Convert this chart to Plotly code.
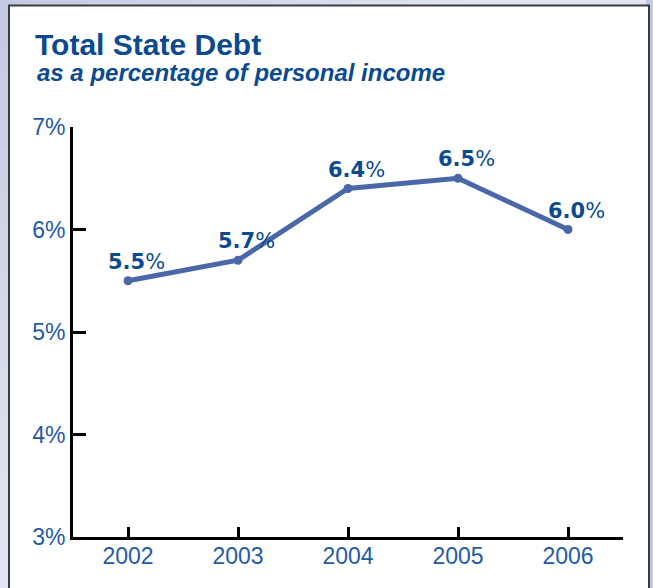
import plotly.graph_objects as go

# Total state debt as a share of personal income, by fiscal year
years = [2002, 2003, 2004, 2005, 2006]
debt_pct = [5.5, 5.7, 6.4, 6.5, 6.0]
y_ticks = [3, 4, 5, 6, 7]
y_tick_labels = ["3%", "4%", "5%", "6%", "7%"]

W, H = 653, 588
ML, MR, MT, MB = 73, 30, 127, 51
PW, PH = W - ML - MR, H - MT - MB

DARK_BLUE = "#0c4a90"
TICK_BLUE = "#1f5aa5"
LINE_BLUE = "#4a67a8"


def px_x(p):
    return (p - ML) / PW


def px_y(p):
    return (H - MB - p) / PH


def mix(c1, c2, t):
    a = [int(c1[i:i + 2], 16) for i in (1, 3, 5)]
    b = [int(c2[i:i + 2], 16) for i in (1, 3, 5)]
    return "#" + "".join(f"{round(x + (y - x) * t):02x}" for x, y in zip(a, b))


fig = go.Figure()

fig.add_trace(go.Scatter(
    x=years, y=debt_pct,
    mode="lines+markers",
    line=dict(color=LINE_BLUE, width=5),
    marker=dict(color=LINE_BLUE, size=9),
    cliponaxis=False,
    hoverinfo="skip",
))

# Value labels above each point
for yr, v in zip(years, debt_pct):
    fig.add_annotation(
        x=yr, y=v, xref="x", yref="y",
        text=f"<b>{v:.1f}</b>%",
        showarrow=False,
        xshift=8, yshift=19,
        font=dict(family="DejaVu Sans", size=21, color=DARK_BLUE),
    )

# Subtitle
fig.add_annotation(
    xref="paper", yref="paper",
    x=px_x(35), y=px_y(72),
    xanchor="left", yanchor="middle",
    text="<b><i>as a percentage of personal income</i></b>",
    showarrow=False,
    font=dict(family="Liberation Sans", size=24, color=DARK_BLUE),
)

# Framed background: soft lavender border with a white panel
shapes = []
BG_A, BG_B = "#c5c9e3", "#e2e5f1"
n = 24
for i in range(n):
    t = i / (n - 1)
    y0 = i * H / n
    shapes.append(dict(type="rect", xref="paper", yref="paper", layer="below",
                       x0=px_x(0), x1=px_x(12), y0=px_y(y0), y1=px_y(y0 + H / n + 1),
                       line=dict(width=0), fillcolor=mix(BG_A, BG_B, t)))
for i in range(n):
    x0 = i * W / n
    t = min(1.0, i / (n * 0.7))
    shapes.append(dict(type="rect", xref="paper", yref="paper", layer="below",
                       x0=px_x(x0 if i else 12), x1=px_x(x0 + W / n + 1),
                       y0=px_y(0), y1=px_y(8),
                       line=dict(width=0), fillcolor=mix(BG_A, BG_B, t)))
shapes.append(dict(type="rect", xref="paper", yref="paper", layer="below",
                   x0=px_x(646), x1=px_x(W), y0=px_y(0), y1=px_y(H),
                   line=dict(width=0), fillcolor="#c4c9e5"))
shapes.append(dict(type="rect", xref="paper", yref="paper", layer="below",
                   x0=px_x(9), x1=px_x(649), y0=px_y(5.5), y1=px_y(H + 10),
                   line=dict(color="#3c3c3c", width=2), fillcolor="white"))

fig.update_layout(
    width=W, height=H,
    margin=dict(l=ML, r=MR, t=MT, b=MB),
    paper_bgcolor="#c9cde5",
    plot_bgcolor="rgba(0,0,0,0)",
    showlegend=False,
    shapes=shapes,
    title=dict(
        text="<b>Total State Debt</b>",
        x=35 / W, xanchor="left",
        y=1 - 44 / H, yanchor="middle",
        font=dict(family="Liberation Sans", size=30, color=DARK_BLUE),
    ),
    xaxis=dict(
        range=[2001.5, 2006.5],
        tickmode="array", tickvals=years, ticktext=[str(y) for y in years],
        showline=True, linecolor="black", linewidth=3,
        ticks="inside", ticklen=10, tickwidth=3, tickcolor="black",
        ticklabelstandoff=-4,
        showgrid=False, zeroline=False,
        tickfont=dict(family="Liberation Sans", size=23, color=TICK_BLUE),
        fixedrange=True,
    ),
    yaxis=dict(
        range=[3, 7],
        tickmode="array", tickvals=y_ticks, ticktext=y_tick_labels,
        showline=True, linecolor="black", linewidth=3,
        ticks="inside", ticklen=13, tickwidth=3, tickcolor="black",
        showgrid=False, zeroline=False,
        tickfont=dict(family="Liberation Sans", size=23, color=TICK_BLUE),
        fixedrange=True,
    ),
)

fig.write_html("out.html")
